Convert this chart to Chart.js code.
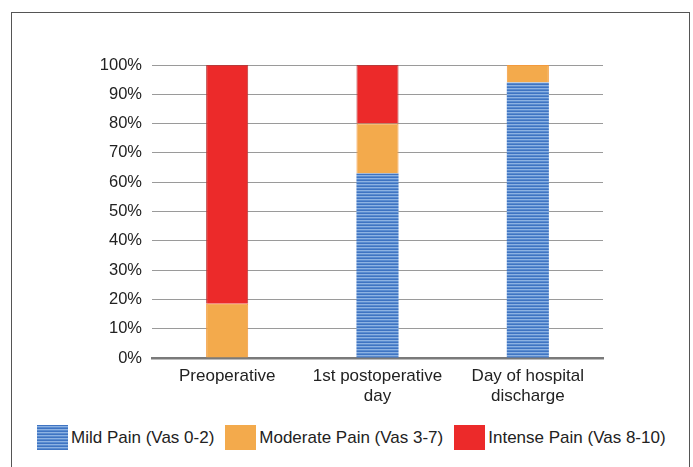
<!DOCTYPE html>
<html>
<head>
<meta charset="utf-8">
<script src="https://cdn.jsdelivr.net/npm/chart.js@4/dist/chart.umd.min.js"></script>
<style>
  html, body { margin: 0; padding: 0; background: #fff; }
  body { width: 693px; height: 467px; position: relative; overflow: hidden; font-family: "Liberation Sans", Arial, sans-serif; }
  #frame { position: absolute; left: 11px; top: 12px; width: 679px; height: 470px; border: 1.5px solid #555; box-sizing: border-box; }
  #wrap { position: absolute; left: 0; top: 0; width: 693px; height: 408px; }
  #legend { position: absolute; left: 37px; top: 425px; display: flex; align-items: center; font-size: 17px; color: #222; }
  .item { display: flex; align-items: center; margin-right: 11px; }
  .sw { width: 31px; height: 25px; margin-right: 3px; }
</style>
</head>
<body>
<div id="frame"></div>
<div id="wrap"><canvas id="chart" width="693" height="408"></canvas></div>
<div id="legend"></div>
<script>
// ==================== DATA ====================
const categories = [['Preoperative'], ['1st postoperative', 'day'], ['Day of hospital', 'discharge']];
const seriesNames = ['Mild Pain (Vas 0-2)', 'Moderate Pain (Vas 3-7)', 'Intense Pain (Vas 8-10)'];
const mildPain = [0, 63, 94];
const moderatePain = [18.5, 17, 6];
const intensePain = [81.5, 20, 0];
const yTicks = [0, 10, 20, 30, 40, 50, 60, 70, 80, 90, 100];

// striped blue fill for the mild series
function makeStripes() {
  const c = document.createElement('canvas');
  c.width = 4; c.height = 3;
  const g = c.getContext('2d');
  g.fillStyle = '#3f74c2'; g.fillRect(0, 0, 4, 1);
  g.fillStyle = '#8db2e2'; g.fillRect(0, 1, 4, 1);
  g.fillStyle = '#5a8cd0'; g.fillRect(0, 2, 4, 1);
  return g.createPattern(c, 'repeat');
}
const stripes = makeStripes();

const colors = [stripes, '#f3aa4c', '#ec2a2a'];
const edges = ['#5a8cd0', '#f39a3c', '#b83a3a'];
const values = [mildPain, moderatePain, intensePain];

const ctx = document.getElementById('chart').getContext('2d');
new Chart(ctx, {
  type: 'bar',
  data: {
    labels: categories,
    datasets: seriesNames.map((name, i) => ({
      label: name,
      data: values[i],
      backgroundColor: colors[i],
      borderColor: edges[i],
      borderWidth: i === 0 ? 0 : 1,
      categoryPercentage: 1,
      barPercentage: 0.28
    }))
  },
  options: {
    responsive: false,
    animation: false,
    layout: { padding: { top: 65, right: 90, left: 0, bottom: 0 } },
    plugins: { legend: { display: false }, tooltip: { enabled: false } },
    scales: {
      x: {
        stacked: true,
        grid: { display: false },
        border: { color: '#7a7a7a', width: 2.5 },
        ticks: { color: '#222', font: { family: 'Liberation Sans', size: 17 }, padding: 0, maxRotation: 0 },
        afterFit: s => { s.height = 50; }
      },
      y: {
        stacked: true,
        min: 0, max: 100,
        afterBuildTicks: s => { s.ticks = yTicks.map(v => ({ value: v })); },
        grid: { color: '#9a9a9a', lineWidth: 1, drawTicks: false },
        border: { display: false },
        ticks: { color: '#222', font: { family: 'Liberation Sans', size: 16.5 }, padding: 10, callback: v => v + '%' },
        afterFit: s => { s.width = 152; }
      }
    }
  }
});

// legend
const legend = document.getElementById('legend');
seriesNames.forEach((name, i) => {
  const item = document.createElement('div');
  item.className = 'item';
  const sw = document.createElement('div');
  sw.className = 'sw';
  sw.style.background = i === 0
    ? 'repeating-linear-gradient(#3f74c2 0 1px, #8db2e2 1px 2px, #5a8cd0 2px 3px)'
    : colors[i];
  const txt = document.createElement('span');
  txt.textContent = name;
  item.appendChild(sw);
  item.appendChild(txt);
  legend.appendChild(item);
});
</script>
</body>
</html>
